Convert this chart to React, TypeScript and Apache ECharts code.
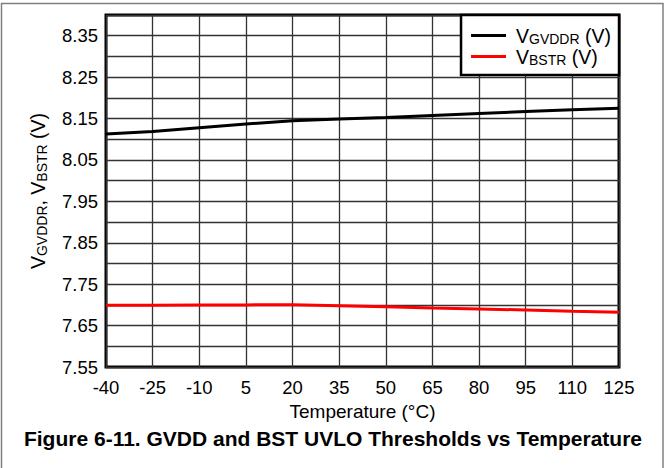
import React, { useEffect, useRef } from "react";
import * as echarts from "echarts";

const temperatures = [-40, -25, -10, 5, 20, 35, 50, 65, 80, 95, 110, 125];
const vgvddr = [8.1125, 8.1187, 8.1277, 8.1366, 8.1446, 8.1487, 8.1526, 8.1575, 8.1623, 8.167, 8.171, 8.1749];
const vbstr = [7.699, 7.699, 7.7, 7.7, 7.7003, 7.698, 7.6957, 7.6925, 7.69, 7.6877, 7.6845, 7.682];
const seriesNames = ["VGVDDR (V)", "VBSTR (V)"];
const X_MIN = -40;
const X_MAX = 125;
const X_STEP = 15;
const Y_MIN = 7.55;
const Y_MAX = 8.4;
const Y_STEP = 0.05;

const FONT = "'Liberation Sans', Arial, sans-serif";

export default function App() {
  const ref = useRef<HTMLDivElement>(null);
  useEffect(() => {
    if (!ref.current) return;
    const chart = echarts.init(ref.current, undefined, { renderer: "svg" });
    const shift = (t: number) => t - X_MIN;
    const rich = {
      a: { fontSize: 19.5, fontFamily: FONT, color: "#000", lineHeight: 22 },
      s: { fontSize: 14, fontFamily: FONT, color: "#000", lineHeight: 22, padding: [7, 0, 0, 0] },
    };
    chart.setOption({
      animation: false,
      backgroundColor: "#fff",
      textStyle: { fontFamily: FONT },
      grid: {
        left: 106,
        top: 15,
        right: 47,
        bottom: 101,
        show: true,
        borderColor: "#000",
        borderWidth: 3,
        containLabel: false,
      },
      title: {
        text: "Figure 6-11. GVDD and BST UVLO Thresholds vs Temperature",
        left: "center",
        top: 423,
        textStyle: { fontSize: 21, fontWeight: "bold", color: "#000", fontFamily: FONT },
      },
      legend: {
        data: seriesNames,
        orient: "vertical",
        right: 47,
        top: 15,
        backgroundColor: "#fff",
        borderColor: "#000",
        borderWidth: 2.5,
        borderRadius: 0,
        padding: [10, 8, 8, 10],
        itemGap: 0,
        itemWidth: 35,
        itemHeight: 3,
        icon: "rect",
        textStyle: { rich, padding: [0, 0, 0, 5] },
        formatter: (name: string) => {
          const sub = name.replace(/^V/, "").replace(/ \(V\)$/, "");
          return `{a|V}{s|${sub}}{a| (V)}`;
        },
      },
      xAxis: {
        type: "value",
        min: shift(X_MIN),
        max: shift(X_MAX),
        interval: X_STEP,
        name: "Temperature (°C)",
        nameLocation: "middle",
        nameGap: 33,
        nameTextStyle: { fontSize: 19, color: "#000", fontFamily: FONT },
        axisLine: { show: false },
        axisTick: { show: false },
        axisLabel: {
          color: "#000",
          fontSize: 18.5,
          fontFamily: FONT,
          margin: 11,
          formatter: (v: number) => String(Math.round(v + X_MIN)),
        },
        splitLine: { show: true, lineStyle: { color: "#333", width: 1.3 } },
      },
      yAxis: {
        type: "value",
        min: Y_MIN,
        max: Y_MAX,
        interval: Y_STEP,
        name: "{a|V}{s|GVDDR}{a|, V}{s|BSTR}{a| (V)}",
        nameLocation: "middle",
        nameRotate: 90,
        nameGap: 57,
        nameTextStyle: { rich },
        axisLine: { show: false },
        axisTick: { show: false },
        axisLabel: {
          color: "#000",
          fontSize: 18.5,
          fontFamily: FONT,
          margin: 8,
          formatter: (v: number) => {
            const idx = Math.round((v - Y_MIN) / Y_STEP);
            return idx % 2 === 0 ? v.toFixed(2) : "";
          },
        },
        splitLine: { show: true, lineStyle: { color: "#333", width: 1.3 } },
      },
      series: [
        {
          name: seriesNames[0],
          type: "line",
          symbol: "none",
          data: temperatures.map((t, i) => [shift(t), vgvddr[i]]),
          lineStyle: { color: "#000", width: 3 },
          itemStyle: { color: "#000" },
          z: 3,
        },
        {
          name: seriesNames[1],
          type: "line",
          symbol: "none",
          data: temperatures.map((t, i) => [shift(t), vbstr[i]]),
          lineStyle: { color: "#ff0000", width: 3 },
          itemStyle: { color: "#ff0000" },
          z: 3,
        },
      ],
      graphic: [
        {
          type: "rect",
          shape: { x: 1.5, y: 3.5, width: 661.5, height: 480 },
          style: { fill: "none", stroke: "#808080", lineWidth: 1.5 },
          silent: true,
        },
      ],
    });
    return () => chart.dispose();
  }, []);
  return (
    <div
      ref={ref}
      style={{ position: "fixed", left: 0, top: 0, width: 666, height: 468 }}
    />
  );
}
